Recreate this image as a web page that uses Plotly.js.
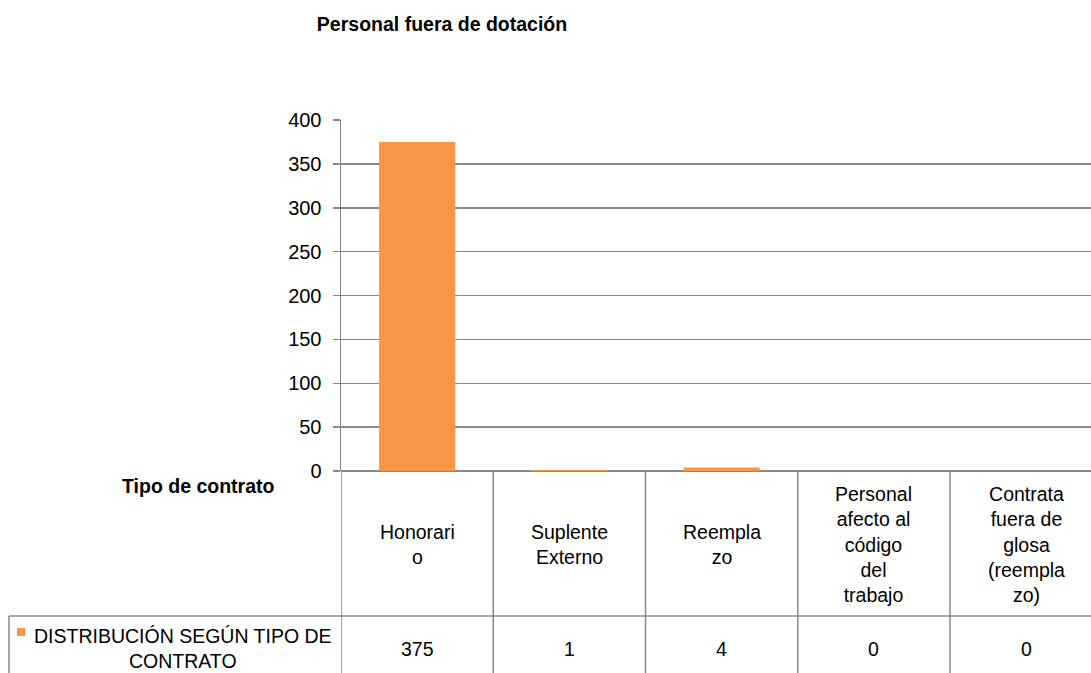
<!DOCTYPE html>
<html>
<head>
<meta charset="utf-8">
<script src="https://cdn.plot.ly/plotly-3.0.1.min.js"></script>
<style>html,body{margin:0;padding:0;background:#fff;}#chart{width:1091px;height:673px;}</style>
</head>
<body>
<div id="chart"></div>
<script>
const chartTitle = "Personal fuera de dotación";
const axisTitle = "Tipo de contrato";
const seriesName = "DISTRIBUCIÓN SEGÚN TIPO DE<br>CONTRATO";
const categories = ["Honorario", "Suplente Externo", "Reemplazo", "Personal afecto al código del trabajo", "Contrata fuera de glosa (reemplazo)"];
const categoryLabels = ["Honorari<br>o", "Suplente<br>Externo", "Reempla<br>zo", "Personal<br>afecto al<br>código<br>del<br>trabajo", "Contrata<br>fuera de<br>glosa<br>(reempla<br>zo)"];
const values = [375, 1, 4, 0, 0];
const yTicks = [0, 50, 100, 150, 200, 250, 300, 350, 400];

const FONT = "'Liberation Sans', Arial, sans-serif";
const FS = 19.5;
const BAR = "#F79646";
const LINE = "#888888";

// geometry in pixels (plot area 341..1091 x 120..471)
const W = 1091, H = 673, L = 341, T = 120, B = 471;
const ph = B - T, pw = W - L;
const py = p => (B - p) / ph;      // pixel y -> paper y
const px = p => (p - L) / pw;      // pixel x -> paper x

const shapes = [];
const annotations = [];

// table vertical lines at category boundaries
for (let i = 0; i <= categories.length; i++) {
  shapes.push({type: 'line', xref: 'x', yref: 'paper', x0: i - 0.5, x1: i - 0.5,
    y0: py(471), y1: py(700), line: {color: LINE, width: 1.5}});
}
// horizontal line between header row and value row
shapes.push({type: 'line', xref: 'paper', yref: 'paper', x0: px(9), x1: 1.05,
  y0: py(616), y1: py(616), line: {color: LINE, width: 1.5}});
// left cell border
shapes.push({type: 'line', xref: 'paper', yref: 'paper', x0: px(9), x1: px(9),
  y0: py(616), y1: py(700), line: {color: LINE, width: 1.5}});
// legend key
shapes.push({type: 'rect', xref: 'paper', yref: 'paper', x0: px(17), x1: px(25),
  y0: py(628), y1: py(636), fillcolor: BAR, line: {width: 0}});

categories.forEach((c, i) => {
  annotations.push({xref: 'x', yref: 'paper', x: i, y: py(544), text: categoryLabels[i],
    showarrow: false, xanchor: 'center', yanchor: 'middle', align: 'center',
    font: {family: FONT, size: FS, color: '#000'}});
  annotations.push({xref: 'x', yref: 'paper', x: i, y: py(649), text: String(values[i]),
    showarrow: false, xanchor: 'center', yanchor: 'middle',
    font: {family: FONT, size: FS, color: '#000'}});
});
annotations.push({xref: 'paper', yref: 'paper', x: px(183), y: py(648), text: seriesName,
  showarrow: false, xanchor: 'center', yanchor: 'middle', align: 'center',
  font: {family: FONT, size: FS, color: '#000'}});
annotations.push({xref: 'paper', yref: 'paper', x: px(198), y: py(486), text: '<b>' + axisTitle + '</b>',
  showarrow: false, xanchor: 'center', yanchor: 'middle',
  font: {family: FONT, size: FS, color: '#000'}});

const data = [{
  type: 'bar', x: categories.map((c, i) => i), y: values, name: seriesName,
  width: 0.5, marker: {color: BAR, line: {width: 0}},
  hoverinfo: 'y'
}];

const layout = {
  width: W, height: H,
  margin: {l: L, r: 0, t: T, b: H - B, pad: 0},
  paper_bgcolor: '#fff', plot_bgcolor: '#fff',
  showlegend: false,
  title: {text: '<b>' + chartTitle + '</b>', x: 442 / W, xanchor: 'center', y: 1 - 24 / H, yanchor: 'middle',
    font: {family: FONT, size: FS, color: '#000'}},
  xaxis: {range: [-0.5, -0.5 + pw / 152.25], showticklabels: false, showgrid: false, zeroline: false,
    showline: false, ticks: '', fixedrange: true},
  yaxis: {range: [0, 400], tickvals: yTicks, ticktext: yTicks.map(String), showgrid: true,
    gridcolor: LINE, gridwidth: 1.5, zeroline: true, zerolinecolor: LINE, zerolinewidth: 1.5,
    showline: true, linecolor: LINE, linewidth: 1.5, ticks: 'outside', ticklen: 7, tickcolor: LINE,
    tickwidth: 1.5, tickfont: {family: FONT, size: 20, color: '#000'}, ticklabelstandoff: 7, fixedrange: true},
  shapes: shapes,
  annotations: annotations
};

Plotly.newPlot('chart', data, layout, {displayModeBar: false, staticPlot: true});
</script>
</body>
</html>
